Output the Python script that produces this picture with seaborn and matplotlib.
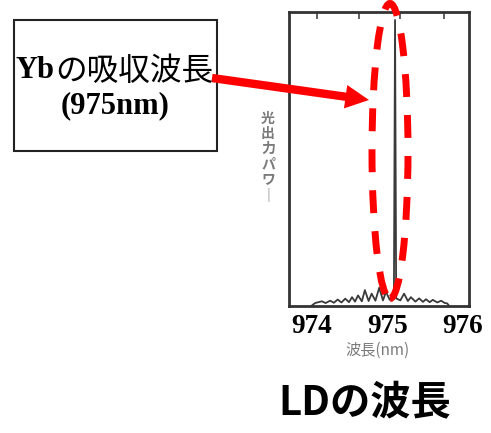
import matplotlib
matplotlib.use("Agg")
import matplotlib.pyplot as plt
import seaborn as sns
import pandas as pd
from matplotlib.patches import Rectangle, Ellipse, FancyArrowPatch

# Emission spectrum of the laser diode (wavelength in nm, relative optical power in %)
wavelength_nm = [973.99, 974.04, 974.13, 974.18, 974.24, 974.29, 974.34, 974.39,
                 974.44, 974.49, 974.53, 974.57, 974.61, 974.66, 974.70, 974.75,
                 974.79, 974.84, 974.89, 974.94, 974.98, 975.03, 975.085, 975.10,
                 975.115, 975.17, 975.22, 975.27, 975.31, 975.37, 975.42, 975.47,
                 975.51, 975.56, 975.60, 975.66, 975.71, 975.76, 975.79, 975.82]
optical_power = [0.0, 1.0, 1.6, 1.0, 1.8, 1.1, 2.2, 1.2,
                 2.5, 1.3, 3.0, 1.5, 3.6, 1.6, 5.4, 1.7,
                 4.2, 1.8, 6.2, 1.9, 4.8, 2.1, 2.6, 97.3,
                 2.6, 1.9, 4.2, 1.7, 3.0, 1.5, 2.6, 1.4,
                 2.3, 1.3, 2.1, 1.2, 1.8, 1.0, 0.9, 0.0]

tick_nm = [974, 975, 976]
top_tick_nm = [974.07, 974.62, 975.17, 975.75]
yb_absorption_nm = 975

x_label = "波長(nm)"
y_label = "光出力パワー"
caption = "LDの波長"

sns.set_theme(style="white")
plt.rcParams["font.family"] = ["Noto Sans CJK JP", "DejaVu Sans"]
plt.rcParams["text.color"] = "black"

W, H = 491, 433
fig = plt.figure(figsize=(W / 100, H / 100), dpi=100)

def fx(px):
    return px / W

def fy(py):
    return 1 - py / H

ax = fig.add_axes([fx(289), fy(306), fx(469) - fx(289), fy(12) - fy(306)])

df = pd.DataFrame({"wavelength": wavelength_nm, "power": optical_power})
sns.lineplot(data=df, x="wavelength", y="power", ax=ax, color="#3a3a3a",
             linewidth=1.3, sort=False)

ax.set_xlim(973.695, 976.08)
ax.set_ylim(0, 100)

for s in ax.spines.values():
    s.set_color("#333333")
    s.set_linewidth(2.0)

ax.set_xticks(tick_nm)
ax.set_xticklabels([str(t) for t in tick_nm], family="Liberation Serif",
                   fontweight="bold", fontsize=19.5, color="black")
ax.tick_params(axis="x", length=0, pad=6)
ax.set_yticks([])
ax.set_xticks(top_tick_nm, minor=True)
ax.tick_params(axis="x", which="minor", direction="in", top=True, bottom=False,
               length=5, width=1.2, color="#444444")

ax.set_xlabel(x_label, fontsize=11, color="#7a7a7a")
ax.xaxis.set_label_coords(0.494, -0.15)
ax.xaxis.label.set_va("center")
ax.set_ylabel("\n".join(y_label.replace("ー", "｜")), rotation=0, fontsize=10,
              color="#7a7a7a", linespacing=1.12, fontweight="bold")
ax.yaxis.set_label_coords(-0.117, 0.507)
ax.yaxis.label.set_va("center")
ax.yaxis.label.set_ha("center")

# Callout box for the Yb absorption wavelength
fig.add_artist(Rectangle((fx(14), fy(151)), fx(217) - fx(14), fy(20) - fy(151),
                         transform=fig.transFigure, fill=False,
                         edgecolor="#222222", linewidth=1.5))
fig.text(fx(55), fy(71), "Yb", family="Liberation Serif", fontweight="bold",
         fontsize=22, ha="right", va="center", color="black")
fig.text(fx(55), fy(71), "の吸収波長", fontsize=22.8, ha="left", va="center",
         color="black")
fig.text(fx(115), fy(106), f"({yb_absorption_nm}nm)", family="Liberation Serif",
         fontweight="bold", fontsize=22, ha="center", va="center", color="black")

# Arrow from the callout to the emission peak
fig.add_artist(FancyArrowPatch((fx(212), fy(78)), (fx(369), fy(100)),
                               transform=fig.transFigure,
                               arrowstyle="simple,head_length=1.7,head_width=1.7,tail_width=0.6",
                               mutation_scale=10, color="#ff0000",
                               shrinkA=0, shrinkB=0, linewidth=0))

# Dashed ring around the peak
fig.add_artist(Ellipse((fx(390), fy(151)), fx(36), 295 / H,
                       transform=fig.transFigure, fill=False,
                       edgecolor="#ff0000", linewidth=5,
                       linestyle=(0, (3.3, 2.6))))

fig.text(fx(365), fy(403), caption, fontsize=29, fontweight="bold",
         ha="center", va="center", color="black")

fig.savefig("out.png", dpi=100)
